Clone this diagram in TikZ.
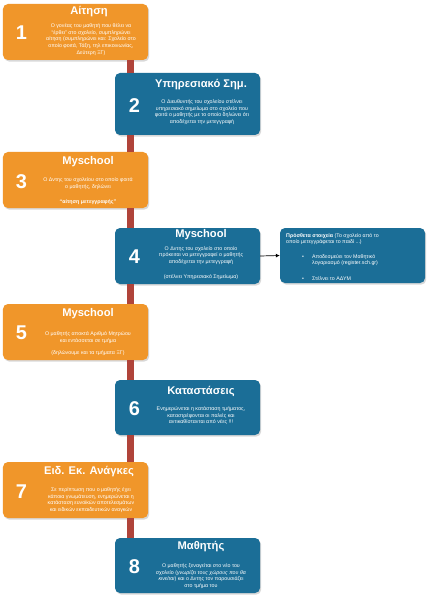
\documentclass[tikz,border=0pt]{standalone}
\usepackage{fontspec}
\setmainfont{Liberation Sans}
\usetikzlibrary{shadows,arrows.meta}
\definecolor{orangeC}{HTML}{F0962A}
\definecolor{blueC}{HTML}{1B6E97}
\definecolor{redC}{HTML}{B0443A}
\tikzset{
  card/.style={rounded corners=5bp, minimum width=145bp, inner sep=0pt,
    drop shadow={opacity=0.3, shadow xshift=1.2bp, shadow yshift=-1.6bp}},
  obox/.style={card, fill=orangeC},
  bbox/.style={card, fill=blueC},
  ttl/.style={text=white, inner sep=0pt, font=\bfseries\fontsize{11.2}{13}\selectfont},
  num/.style={text=white, inner sep=0pt, font=\bfseries\fontsize{20}{22}\selectfont},
  body/.style={text=white, inner sep=0pt, align=center, font=\fontsize{5.3}{6.9}\selectfont},
  lbody/.style={text=white, inner sep=0pt, align=left, font=\fontsize{5.3}{6.6}\selectfont},
  spine/.style={draw=redC, line width=6.5bp},
  link/.style={draw=black, line width=0.7bp, -{Latex[length=4bp,width=4bp]}}
}
\begin{document}
\begin{tikzpicture}[x=1bp,y=-1bp]
\fill[white] (0,0) rectangle (429,599);
\useasboundingbox (0,0) rectangle (429,599);
% boxes
\node[obox, minimum height=56bp] (b1) at (75.5,32) {};
\node[bbox, minimum height=62bp] (b2) at (187.5,104) {};
\node[obox, minimum height=56bp] (b3) at (75.5,180) {};
\node[bbox, minimum height=56bp] (b4) at (187.5,256) {};
\node[bbox, minimum height=55bp] (b4x) at (352.5,255.5) {};
\node[obox, minimum height=56bp] (b5) at (75.5,332) {};
\node[bbox, minimum height=55bp] (b6) at (187.5,407.5) {};
\node[obox, minimum height=56bp] (b7) at (75.5,490) {};
\node[bbox, minimum height=55bp] (b8) at (187.5,565.5) {};
% spine
\coordinate (sx) at (130.7,0);
\begin{scope}[on background layer/.try]
\end{scope}
\draw[spine] (b1.south -| sx) -- (b2.north -| sx);
\draw[spine] (b2.south -| sx) -- (b3.north -| sx);
\draw[spine] (b3.south -| sx) -- (b4.north -| sx);
\draw[spine] (b4.south -| sx) -- (b5.north -| sx);
\draw[spine] (b5.south -| sx) -- (b6.north -| sx);
\draw[spine] (b6.south -| sx) -- (b7.north -| sx);
\draw[spine] (b7.south -| sx) -- (b8.north -| sx);
\draw[link] (b4.east) -- (b4x.west);
% box 1
\node[ttl] (t1) at (89,11.5) {Αίτηση};
\node[num] (n1) at (21.5,32.5) {1};
\node[body] (d1) at (91,39.5) {Ο γονέας του μαθητή που θέλει να\\“έρθει” στο σχολείο, συμπληρώνει\\αίτηση (συμπληρώνει και: Σχολείο στο\\οποίο φοιτά, Τάξη, τηλ επικοινωνίας,\\Δεύτερη ΞΓ)};
% box 2
\node[ttl] (t2) at (201,85) {Υπηρεσιακό Σημ.};
\node[num] (n2) at (134.5,105.5) {2};
\node[body] (d2) at (202,112) {Ο Διευθυντής του σχολείου στέλνει\\υπηρεσιακό σημείωμα στο σχολείο που\\φοιτά ο μαθητής με το οποίο δηλώνει ότι\\αποδέχεται την μετεγγραφή};
% box 3
\node[ttl] (t3) at (88,162) {Myschool};
\node[num] (n3) at (21.5,182) {3};
\node[body] (d3) at (88,183.5) {Ο Δντης του σχολείου στο οποίο φοιτά\\ο μαθητής, δηλώνει};
\node[body, font=\bfseries\fontsize{5.3}{6.9}\selectfont] (e3) at (88,202) {“αίτηση μετεγγραφής”};
% box 4
\node[ttl] (t4) at (201,235) {Myschool};
\node[num] (n4) at (134.5,257) {4};
\node[body] (d4) at (201,255.5) {Ο Δντης του σχολείο στο οποίο\\πρόκειται να μετεγγραφεί ο μαθητής\\αποδέχεται την μετεγγραφή};
\node[body] (e4) at (201,277) {(στέλνει Υπηρεσιακό Σημείωμα)};
% box 4 extra
\node[lbody, anchor=west] (d4x) at (286,239) {\textbf{Πρόσθετα στοιχεία} (Το σχολείο από το\\οποίο μετεγγράφεται το παιδί ...)};
\node[lbody] (u1) at (303,257) {•};
\node[lbody, anchor=west] (v1) at (312,260) {Αποδεσμεύει τον Μαθητικό\\λογαριασμό (register.sch.gr)};
\node[lbody] (u2) at (303,279) {•};
\node[lbody, anchor=west] (v2) at (312,279) {Στέλνει το ΑΔΥΜ};
% box 5
\node[ttl] (t5) at (88,314) {Myschool};
\node[num] (n5) at (21.5,333) {5};
\node[body] (d5) at (88,337.5) {Ο μαθητής αποκτά Αριθμό Μητρώου\\και εντάσσεται σε τμήμα};
\node[body] (e5) at (88,353) {(δηλώνουμε και τα τμήματα ΞΓ)};
% box 6
\node[ttl] (t6) at (201,391) {Καταστάσεις};
\node[num] (n6) at (134.5,409) {6};
\node[body] (d6) at (201,415.5) {Ενημερώνεται η κατάσταση τμήματος,\\καταστρέφονται οι παλιές και\\αντικαθίστανται από νέες !!!};
% box 7
\node[ttl] (t7) at (89,472) {Ειδ. Εκ. Ανάγκες};
\node[num] (n7) at (21.5,492) {7};
\node[body] (d7) at (91,500) {Σε περίπτωση που ο μαθητής έχει\\κάποια γνωμάτευση, ενημερώνεται η\\κατάσταση ευνοϊκών αποτελεσμάτων\\και ειδικών εκπαιδευτικών αναγκών};
% box 8
\node[ttl] (t8) at (201,547) {Μαθητής};
\node[num] (n8) at (134.5,567) {8};
\node[body] (d8) at (201,576) {Ο μαθητής ξεναγείται στο νέο του\\σχολείο (\textit{γνωρίζει τους χώρους που θα}\\\textit{κινείται}) και ο Δντης τον παρουσιάζει\\στο τμήμα του};
\end{tikzpicture}
\end{document}
